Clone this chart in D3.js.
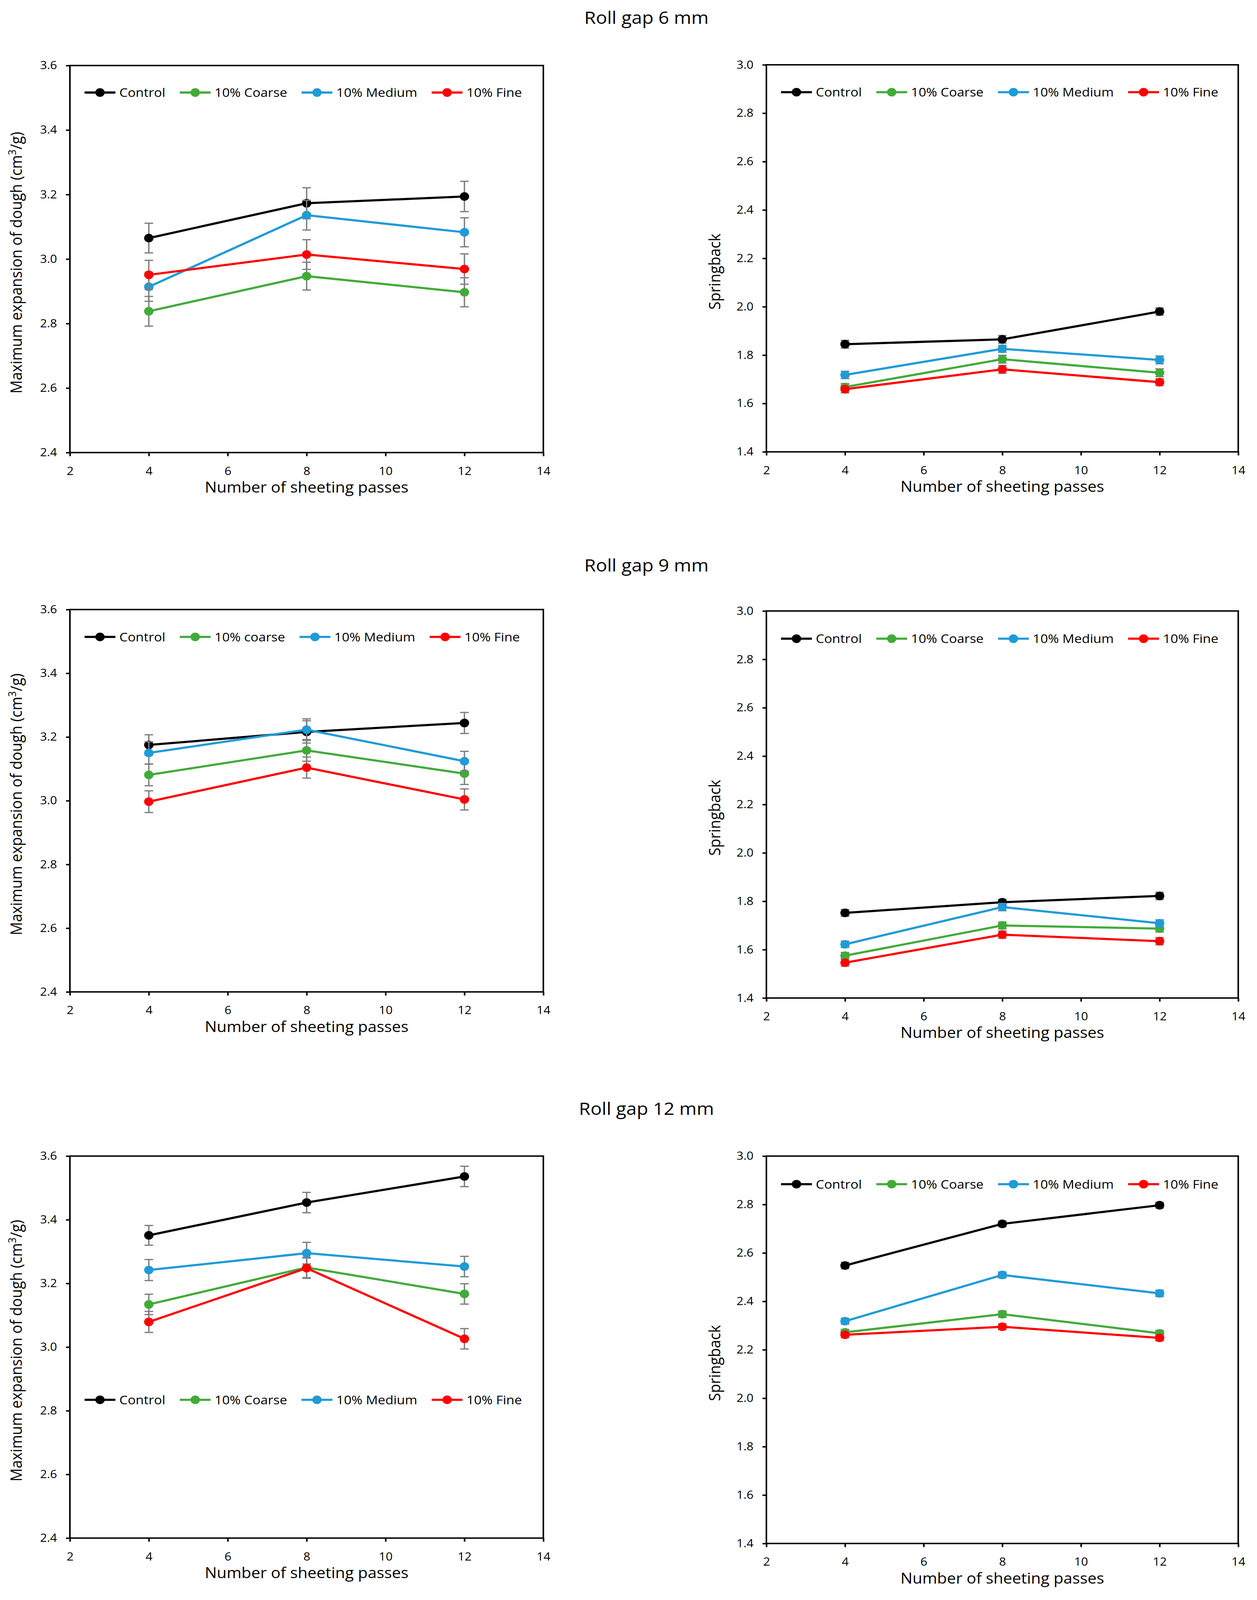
<!DOCTYPE html>
<html>
<head>
<meta charset="utf-8">
<script src="https://cdn.jsdelivr.net/npm/d3@7"></script>
<style>
html,body{margin:0;padding:0;overflow:hidden;background:#fff;}
svg{display:block;width:100vw;height:100vh;}
text{font-family:"Open Sans",sans-serif;fill:#000;}
</style>
</head>
<body>
<svg id="chart"></svg>
<script>
var W=3218, H=4444;

// x values and ticks
var passes=[4,8,12];
var xTicks=[2,4,6,8,10,12,14];
var expTicks=[2.4,2.6,2.8,3.0,3.2,3.4,3.6];
var springTicks=[1.4,1.6,1.8,2.0,2.2,2.4,2.6,2.8,3.0];

var seriesNames=["Control","10% Coarse","10% Medium","10% Fine"];
var seriesNames9=["Control","10% coarse","10% Medium","10% Fine"];
var rowTitles=["Roll gap 6 mm","Roll gap 9 mm","Roll gap 12 mm"];

// roll gap 6 mm  (rows: Control, Coarse, Medium, Fine)
var exp6Mean=[[3.065,3.173,3.194],[2.838,2.947,2.897],[2.914,3.136,3.083],[2.951,3.014,2.969]];
var exp6Err=[[0.046,0.048,0.047],[0.046,0.043,0.045],[0.045,0.046,0.045],[0.045,0.046,0.047]];
var spring6Mean=[[1.845,1.865,1.980],[1.668,1.783,1.727],[1.718,1.826,1.780],[1.659,1.741,1.688]];
var spring6Err=[[0.016,0.016,0.015],[0.014,0.016,0.016],[0.015,0.014,0.016],[0.015,0.016,0.014]];

// roll gap 9 mm
var exp9Mean=[[3.175,3.216,3.244],[3.081,3.158,3.085],[3.150,3.223,3.124],[2.997,3.104,3.004]];
var exp9Err=[[0.032,0.035,0.033],[0.034,0.034,0.034],[0.035,0.034,0.031],[0.034,0.033,0.033]];
var spring9Mean=[[1.752,1.796,1.822],[1.575,1.700,1.687],[1.622,1.776,1.709],[1.546,1.662,1.635]];
var spring9Err=[[0.014,0.012,0.015],[0.013,0.014,0.014],[0.013,0.015,0.014],[0.014,0.015,0.015]];

// roll gap 12 mm
var exp12Mean=[[3.351,3.454,3.536],[3.134,3.250,3.167],[3.242,3.295,3.253],[3.079,3.248,3.026]];
var exp12Err=[[0.031,0.032,0.032],[0.032,0.032,0.032],[0.033,0.034,0.032],[0.033,0.032,0.032]];
var spring12Mean=[[2.548,2.720,2.797],[2.272,2.347,2.268],[2.318,2.509,2.433],[2.262,2.295,2.249]];
var spring12Err=[[0.013,0.012,0.012],[0.012,0.013,0.012],[0.012,0.012,0.013],[0.012,0.012,0.012]];

var colorscale=d3.scaleOrdinal()
                 .domain([0,1,2,3])
                 .range(["#000000","#41ab3a","#1f9bd7","#ff0000"]);

// the drawing is laid out in a 3218x4444 frame and stretched to the window
var svg=d3.select("#chart")
          .attr("viewBox","0 0 "+W+" "+H)
          .attr("preserveAspectRatio","none");

// panel boxes (layout only)
var panels=[
  {left:179,right:1391,top:182,bottom:1257,mean:exp6Mean,err:exp6Err,ticks:expTicks,names:seriesNames,legendY:75,kind:"exp"},
  {left:1962,right:3170,top:180,bottom:1255,mean:spring6Mean,err:spring6Err,ticks:springTicks,names:seriesNames,legendY:76,kind:"spring"},
  {left:179,right:1391,top:1693,bottom:2755,mean:exp9Mean,err:exp9Err,ticks:expTicks,names:seriesNames9,legendY:76,kind:"exp"},
  {left:1962,right:3170,top:1697,bottom:2772,mean:spring9Mean,err:spring9Err,ticks:springTicks,names:seriesNames,legendY:77,kind:"spring"},
  {left:179,right:1391,top:3211,bottom:4272,mean:exp12Mean,err:exp12Err,ticks:expTicks,names:seriesNames,legendY:677,kind:"exp"},
  {left:1962,right:3170,top:3211,bottom:4287,mean:spring12Mean,err:spring12Err,ticks:springTicks,names:seriesNames,legendY:78,kind:"spring"}
];
var titleY=[66,1587,3097];

//////////////////////////////////////////////
svg.selectAll("text.title")
   .data(rowTitles)
   .enter()
   .append("text")
   .classed("title",true)
   .attr("x",1655)
   .attr("y",function(d,i){return titleY[i];})
   .attr("text-anchor","middle")
   .attr("font-size",48)
   .text(function(d){return d;});

//////////////////////////////////////////////
var drawPanel=function(p){
  var xScale=d3.scaleLinear()
               .domain([2,14])
               .range([p.left,p.right]);
  var yScale=d3.scaleLinear()
               .domain([p.ticks[0],p.ticks[p.ticks.length-1]])
               .range([p.bottom,p.top]);

  var g=svg.append("g");

  var xAxis=d3.axisBottom(xScale)
              .tickValues(xTicks)
              .tickSize(10)
              .tickPadding(30);
  var yAxis=d3.axisLeft(yScale)
              .tickValues(p.ticks)
              .tickSize(10)
              .tickPadding(23)
              .tickFormat(d3.format(".1f"));

  var gx=g.append("g")
          .attr("transform","translate(0,"+p.bottom+")")
          .call(xAxis);
  var gy=g.append("g")
          .attr("transform","translate("+p.left+",0)")
          .call(yAxis);
  [gx,gy].forEach(function(a){
    a.select(".domain").remove();
    a.selectAll("line").attr("stroke","#000").attr("stroke-width",4);
    a.selectAll("text")
     .attr("font-size",31)
     .attr("font-family","'Open Sans',sans-serif")
     .attr("fill","#000");
  });

  g.append("rect")
   .attr("x",p.left)
   .attr("y",p.top)
   .attr("width",p.right-p.left)
   .attr("height",p.bottom-p.top)
   .attr("fill","none")
   .attr("stroke","#000")
   .attr("stroke-width",4);

  // axis titles
  g.append("text")
   .attr("x",(p.left+p.right)/2)
   .attr("y",p.bottom+111)
   .attr("text-anchor","middle")
   .attr("font-size",41)
   .text("Number of sheeting passes");

  var cy=(p.top+p.bottom)/2;
  if(p.kind=="exp"){
    var t=g.append("text")
           .attr("transform","translate("+(p.left-123)+","+(cy+10)+") rotate(-90)")
           .attr("text-anchor","middle")
           .attr("font-size",41);
    t.append("tspan").text("Maximum expansion of dough (cm");
    t.append("tspan").attr("font-size",27).attr("dy",-15).text("3");
    t.append("tspan").attr("dy",15).text("/g)");
  } else {
    g.append("text")
     .attr("transform","translate("+(p.left-118)+","+(cy+37)+") rotate(-90)")
     .attr("text-anchor","middle")
     .attr("font-size",41)
     .text("Springback");
  }

  var line=d3.line()
             .x(function(d,i){return xScale(passes[i]);})
             .y(function(d){return yScale(d);});

  p.mean.forEach(function(vals,s){
    g.append("path")
     .attr("d",line(vals))
     .attr("fill","none")
     .attr("stroke",colorscale(s))
     .attr("stroke-width",6);
  });

  p.mean.forEach(function(vals,s){
    var eg=g.append("g")
            .attr("stroke","#7f7f7f")
            .attr("stroke-width",3.5);
    vals.forEach(function(v,i){
      var x=xScale(passes[i]);
      var y1=yScale(v+p.err[s][i]);
      var y2=yScale(v-p.err[s][i]);
      eg.append("line").attr("x1",x).attr("x2",x).attr("y1",y1).attr("y2",y2);
      eg.append("line").attr("x1",x-11).attr("x2",x+11).attr("y1",y1).attr("y2",y1);
      eg.append("line").attr("x1",x-11).attr("x2",x+11).attr("y1",y2).attr("y2",y2);
    });
    g.selectAll("circle.s"+s)
     .data(vals)
     .enter()
     .append("circle")
     .classed("s"+s,true)
     .attr("cx",function(d,i){return xScale(passes[i]);})
     .attr("cy",function(d){return yScale(d);})
     .attr("r",12)
     .attr("fill",colorscale(s));
  });

  // legend
  var lx=p.left+37.5;
  var ly=p.top+p.legendY;
  p.names.forEach(function(name,s){
    g.append("line")
     .attr("x1",lx).attr("x2",lx+79)
     .attr("y1",ly).attr("y2",ly)
     .attr("stroke",colorscale(s))
     .attr("stroke-width",6);
    g.append("circle")
     .attr("cx",lx+39.5)
     .attr("cy",ly)
     .attr("r",12)
     .attr("fill",colorscale(s));
    var txt=g.append("text")
             .attr("x",lx+89)
             .attr("y",ly)
             .attr("dy","0.36em")
             .attr("font-size",34)
             .text(name);
    lx=lx+89+txt.node().getComputedTextLength()+37;
  });
}

panels.forEach(function(p){
  drawPanel(p);
});
</script>
</body>
</html>
